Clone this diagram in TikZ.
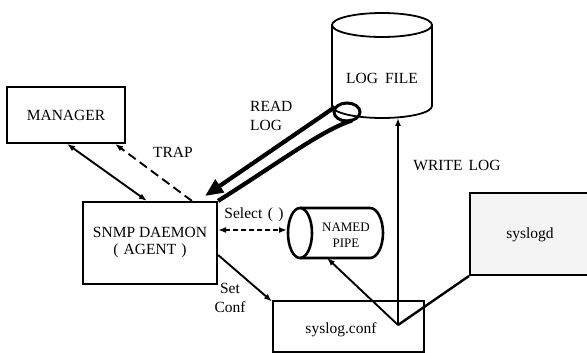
\documentclass[tikz,border=0pt]{standalone}
\usepackage{fontspec}
\setmainfont{Liberation Serif}
\usetikzlibrary{arrows.meta,calc}
\begin{document}
\begin{tikzpicture}[x=1pt,y=-1pt,
  lbl/.style={font=\fontsize{15.5}{17}\selectfont, inner sep=0pt},
  boxn/.style={draw, line width=2pt, inner sep=0pt, font=\fontsize{15.5}{17}\selectfont, align=center},
  arr/.style={-{Latex[length=8pt,width=6pt]}},
  darr/.style={{Latex[length=8pt,width=6pt]}-{Latex[length=8pt,width=6pt]}}]
\useasboundingbox (0,0) rectangle (587,353);

% boxes
\node[boxn, line width=1.8pt, minimum width=118pt, minimum height=56pt] (manager) at (66,115) {MANAGER};
\node[boxn, line width=2.2pt, minimum width=134pt, minimum height=82pt] (snmp) at (150,243) {SNMP DAEMON\\(\,\,AGENT\,\,)};
\node[boxn, minimum width=151pt, minimum height=51pt] (sysconf) at (348.5,326) {};
\node[lbl] (sysconftext) at (341,330) {syslog.conf};
\node[boxn, fill=gray!9, minimum width=124pt, minimum height=82pt] (syslogd) at (532,234) {};
\node[lbl] (syslogdtext) at (530,235) {syslogd};

% log file cylinder
\draw[line width=1.8pt] (382,25) ellipse [x radius=50, y radius=12];
\draw[line width=1.8pt] (332,25) -- (332,106) arc[start angle=180, end angle=0, x radius=50, y radius=12] -- (432,25);
\node[lbl] (logfile) at (382,78) {LOG\hspace{0.45em}FILE};

% named pipe cylinder
\draw[line width=2.6pt] (300,233) ellipse [x radius=12, y radius=25];
\draw[line width=2.6pt] (300,208) -- (370,208) arc[start angle=-90, end angle=90, x radius=13, y radius=25] -- (300,258);
\node[lbl, font=\fontsize{13}{15.5}\selectfont, align=center] (pipe) at (346,235) {NAMED\\PIPE};

\coordinate (v) at (398,325);
\coordinate (lfbot) at (398,118);
\coordinate (pipebot) at (327,258);
\coordinate (pipew) at (287,230);
\coordinate (ring) at (347,112);
\coordinate (ringtop) at (335,107);
\coordinate (readtip) at (205,196);

% connectors
\draw[line width=1.9pt, arr] (v) -- (lfbot);
\draw[line width=1.9pt, arr] (v) -- (pipebot);
\draw[line width=2.4pt] (v) -- (syslogd.south west);

\draw[line width=1.9pt, darr] ([xshift=61pt]manager.south west) -- ([xshift=65pt]snmp.north west);
\draw[line width=1.9pt, dash pattern=on 9pt off 5pt, arr] ([xshift=110pt]snmp.north west) -- ([xshift=109pt]manager.south west);
\draw[line width=2.6pt, dash pattern=on 5pt off 3pt, darr] ([yshift=13pt]snmp.east) -- (pipew);
\draw[line width=1.9pt, arr] ([yshift=-12pt]snmp.east) -- ([yshift=-2pt]sysconf.north west);

% read log loop
\draw[line width=3pt] (ring) ellipse [x radius=13, y radius=9];
\draw[line width=4.2pt] (snmp.north east) .. controls (280,162) and (322,130) .. (352,120.5);
\draw[line width=4.2pt, -{Triangle[length=18pt,width=15pt]}] (ringtop) -- (readtip);

% labels
\node[lbl] (trap) at (173,152) {TRAP};
\node[lbl, font=\fontsize{15.5}{19}\selectfont, align=left, anchor=west] (readlog) at (250,116) {READ\\LOG};
\node[lbl] (writelog) at (457,165) {WRITE\hspace{0.4em}LOG};
\node[lbl] (select) at (254,215) {Select\hspace{0.35em}(\hspace{0.35em})};
\node[lbl, font=\fontsize{15.5}{18.5}\selectfont, align=center] (setconf) at (230,298) {Set\\Conf};
\end{tikzpicture}
\end{document}
